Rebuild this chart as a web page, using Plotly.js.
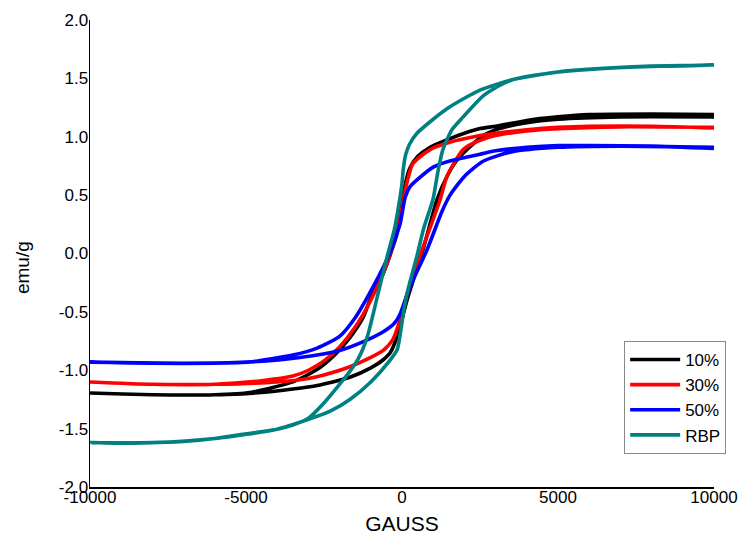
<!DOCTYPE html>
<html>
<head>
<meta charset="utf-8">
<script src="https://cdn.plot.ly/plotly-3.0.1.min.js"></script>
<style>html,body{margin:0;padding:0;background:#fff;}#chart{width:743px;height:539px;}</style>
</head>
<body>
<div id="chart"></div>
<script>
// Each loop: upper branch (field descending +10000 -> -10000), then lower branch (ascending back to +10000)
const fieldBlack = [10000,8000,6000,5000,4000,3000,2500,2000,1500,900,500,250,30,-160,-600,-1030,-1250,-1670,-2200,-2700,-3500,-4870,-6000,-8000,-10000,
                    -8000,-6000,-4500,-3500,-2720,-1670,-1000,-600,-380,-130,160,670,1120,1440,1760,2500,3000,4000,5000,7000,10000];
const momentBlack = [1.19,1.195,1.19,1.17,1.14,1.09,1.07,1.03,0.98,0.91,0.83,0.73,0.50,0.17,-0.17,-0.40,-0.55,-0.72,-0.88,-0.99,-1.10,-1.19,-1.21,-1.21,-1.195,
                     -1.21,-1.21,-1.19,-1.16,-1.13,-1.06,-0.98,-0.91,-0.85,-0.69,-0.40,0.03,0.46,0.66,0.80,0.99,1.06,1.12,1.15,1.17,1.17];

const fieldRed = [10000,8000,6000,5000,4000,3000,2500,1500,900,350,100,-100,-500,-1000,-1500,-2000,-2500,-3000,-3500,-4500,-6000,-8000,-10000,
                  -8000,-6000,-4000,-3000,-2500,-1670,-1000,-600,-300,-100,150,670,1220,1440,1960,2500,3000,4000,5000,7000,10000];
const momentRed = [1.075,1.09,1.09,1.08,1.06,1.03,1.01,0.95,0.89,0.77,0.54,0.25,-0.10,-0.40,-0.63,-0.80,-0.92,-1.00,-1.05,-1.09,-1.12,-1.12,-1.10,
                   -1.12,-1.12,-1.10,-1.07,-1.04,-0.97,-0.89,-0.83,-0.74,-0.60,-0.36,0.05,0.46,0.66,0.89,0.97,1.01,1.05,1.07,1.085,1.08];

const fieldBlue = [10000,8000,6000,5000,4000,3000,2500,1500,1000,480,250,100,-64,-480,-1120,-1500,-2000,-2720,-3500,-4870,-6000,-8000,-10000,
                   -7000,-5000,-3270,-2000,-1200,-600,-250,-64,250,800,1280,1540,2000,2600,3500,5000,7000,10000];
const momentBlue = [0.90,0.92,0.925,0.925,0.91,0.88,0.85,0.79,0.74,0.63,0.57,0.48,0.25,-0.05,-0.38,-0.55,-0.71,-0.81,-0.87,-0.93,-0.94,-0.94,-0.93,
                    -0.94,-0.93,-0.89,-0.83,-0.75,-0.67,-0.60,-0.52,-0.29,0.03,0.36,0.50,0.66,0.79,0.87,0.91,0.92,0.91];

const fieldRBP = [10000,8000,6760,5000,3560,2500,2000,1440,1000,480,250,120,40,0,-100,-250,-480,-800,-1120,-1400,-1700,-2000,-2500,-3000,-3500,-4000,-5000,-6000,-7000,-8000,-9000,-10000,
                  -8000,-6000,-4000,-3000,-2300,-1670,-1000,-400,-150,-50,50,200,480,700,990,1150,1310,1600,1960,2600,3000,3560,5000,6760,8500,10000];
const momentRBP = [1.615,1.605,1.59,1.555,1.49,1.40,1.33,1.24,1.15,1.03,0.94,0.85,0.72,0.60,0.42,0.20,-0.03,-0.38,-0.72,-0.90,-1.02,-1.12,-1.28,-1.41,-1.47,-1.505,-1.545,-1.585,-1.61,-1.62,-1.625,-1.62,
                   -1.62,-1.585,-1.505,-1.42,-1.35,-1.25,-1.10,-0.92,-0.82,-0.68,-0.50,-0.30,-0.02,0.22,0.46,0.70,0.89,1.06,1.17,1.35,1.42,1.49,1.555,1.59,1.605,1.615];

const seriesNames = ['10%','30%','50%','RBP'];
const xTickVals = [-10000,-5000,0,5000,10000];
const yTickVals = [-2.0,-1.5,-1.0,-0.5,0.0,0.5,1.0,1.5,2.0];

const colors = ['#000000','#ff0000','#0000ff','#008080'];
const xs = [fieldBlack, fieldRed, fieldBlue, fieldRBP];
const ys = [momentBlack, momentRed, momentBlue, momentRBP];

const traces = xs.map((x,i)=>({
  x: x, y: ys[i], name: seriesNames[i], type:'scatter', mode:'lines',
  line:{color:colors[i], width:3.6, shape:'spline', smoothing:0.6}
}));

const font = "Arial, 'Liberation Sans', sans-serif";
const layout = {
  width:743, height:539,
  margin:{l:90, r:29, t:20, b:52},
  paper_bgcolor:'#ffffff', plot_bgcolor:'#ffffff',
  font:{family:font, color:'#000'},
  showlegend:true,
  legend:{x:0.856, y:0.3126, xanchor:'left', yanchor:'top', bgcolor:'#fff', bordercolor:'#888', borderwidth:1,
          font:{family:font, size:17, color:'#000'}, tracegroupgap:0, itemwidth:50, entrywidth:112},
  xaxis:{range:[-10000,10000], tickvals:xTickVals, ticktext:xTickVals.map(String), showgrid:false, zeroline:false,
         showline:true, linecolor:'#000', linewidth:1.5, ticks:'', tickfont:{family:font, size:17, color:'#000'},
         ticklabelstandoff:-6,
         title:{text:'GAUSS', font:{family:font, size:21, color:'#000'}, standoff:10}},
  yaxis:{range:[-2,2], tickvals:yTickVals, ticktext:yTickVals.map(v=>v.toFixed(1)), showgrid:false, zeroline:false,
         showline:true, linecolor:'#000', linewidth:1.5, ticks:'', tickfont:{family:font, size:17, color:'#000'},
         ticklabelstandoff:-3},
  annotations:[{text:'emu/g', xref:'paper', yref:'paper', x:-0.109, y:0.471, xanchor:'center', yanchor:'middle',
                textangle:-90, showarrow:false, font:{family:font, size:19, color:'#000'}}]
};
Plotly.newPlot('chart', traces, layout, {displayModeBar:false, staticPlot:true});
</script>
</body>
</html>
